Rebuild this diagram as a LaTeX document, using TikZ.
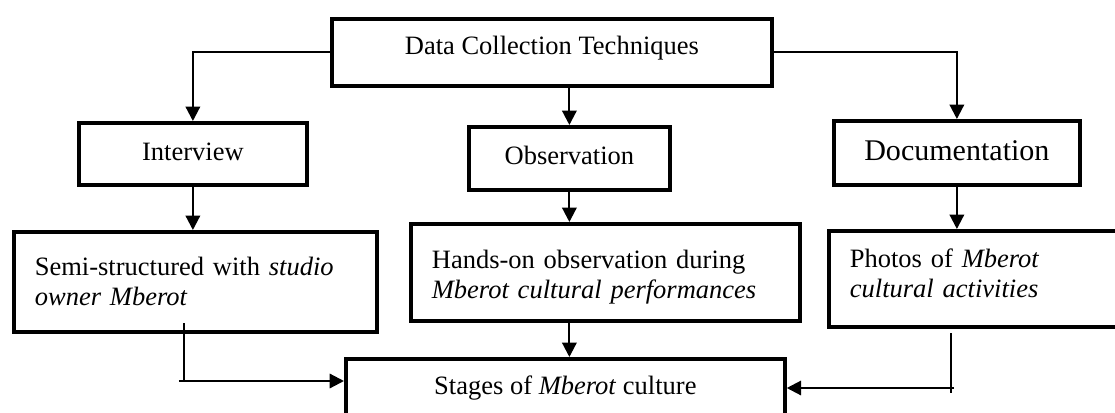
\documentclass[tikz,border=0pt]{standalone}
\usepackage{fontspec}
\setmainfont{Liberation Serif}
\usetikzlibrary{arrows.meta}

\begin{document}
\begin{tikzpicture}[%
            x=0.4528pt, y=-0.4528pt,
            >={Triangle[length=6.5pt,width=6.5pt]},
            box/.style={draw, line width=1.7pt, anchor=north west,
              inner ysep=0pt, inner xsep=#1*\pxl,
              font=\fontsize{12}{13.2}\selectfont},
            link/.style={line width=1pt}
          ]
            \def\pxl{0.4528pt}

            \useasboundingbox (0,0) rectangle (1115,412);
            \clip (0,0) rectangle (1115,412);

            % first row
            \node [box=0, minimum width=440*\pxl, minimum height=67*\pxl,
              text height=9.06pt, text depth=6.79pt] (tech) at (330,17)
              {Data Collection Techniques};

            % second row
            \node [box=0, minimum width=228*\pxl, minimum height=62*\pxl,
              text height=9.96pt, text depth=3.62pt] (interview) at (77,121)
              {Interview};
            \node [box=0, minimum width=201*\pxl, minimum height=63*\pxl,
              text height=9.96pt, text depth=4.08pt] (observation) at (467,125)
              {Observation};
            \node [box=0, minimum width=246*\pxl, minimum height=64*\pxl,
              text height=10.87pt, text depth=3.62pt,
              font=\fontsize{13.6}{15}\selectfont] (documentation) at (832,119)
              {Documentation};

            % third row
            \node [box=21, minimum height=100*\pxl, text width=321*\pxl, align=left,
              text height=9.06pt, text depth=14.49pt] (semi) at (12,230)
              {Semi-structured with \textit{studio}\\\textit{owner Mberot}};
            \node [box=21, minimum height=97*\pxl, text width=347*\pxl, align=left,
              text height=9.06pt, text depth=12.23pt] (handson) at (409,222)
              {Hands-on observation during\\\textit{Mberot cultural performances}};
            \node [box=21, minimum height=96*\pxl, text width=271*\pxl, align=left,
              text height=9.06pt, text depth=19.02pt] (photos) at (827,229)
              {Photos of \textit{Mberot}\\\textit{cultural activities}};

            % result
            \node [box=0, minimum width=439*\pxl, minimum height=83*\pxl,
              text height=9.06pt, text depth=14.04pt] (stages) at (344,357)
              {Stages of \textit{Mberot} culture};

            \draw [link,->] (tech.west) -| (interview.north);
            \draw [link,->] (tech.south -| observation.north) -- (observation.north);
            \draw [link,->] (tech.east) -| (documentation.north);

            \draw [link,->] (interview.south) -- (interview.south |- semi.north);
            \draw [link,->] (observation.south) -- (observation.south |- handson.north);
            \draw [link,->] (documentation.south) -- (documentation.south |- photos.north);
            \draw [link,->] (observation.south |- handson.south) -- (observation.south |- stages.north);

            \coordinate (semiout) at (184,323);
            \coordinate (semibend) at (184,381);
            \draw [link] (semiout) -- (semibend);
            \draw [link,->] ([xshift=-2.3pt]semibend) -- (stages.west |- semibend);

            \coordinate (photosout) at (951,333);
            \coordinate (photosbend) at (951,388);
            \draw [link] (photosout) -- ([yshift=-2.3pt]photosbend);
            \draw [link,->] ([xshift=1.4pt]photosbend) -- (stages.east |- photosbend);
          \end{tikzpicture}
\end{document}
